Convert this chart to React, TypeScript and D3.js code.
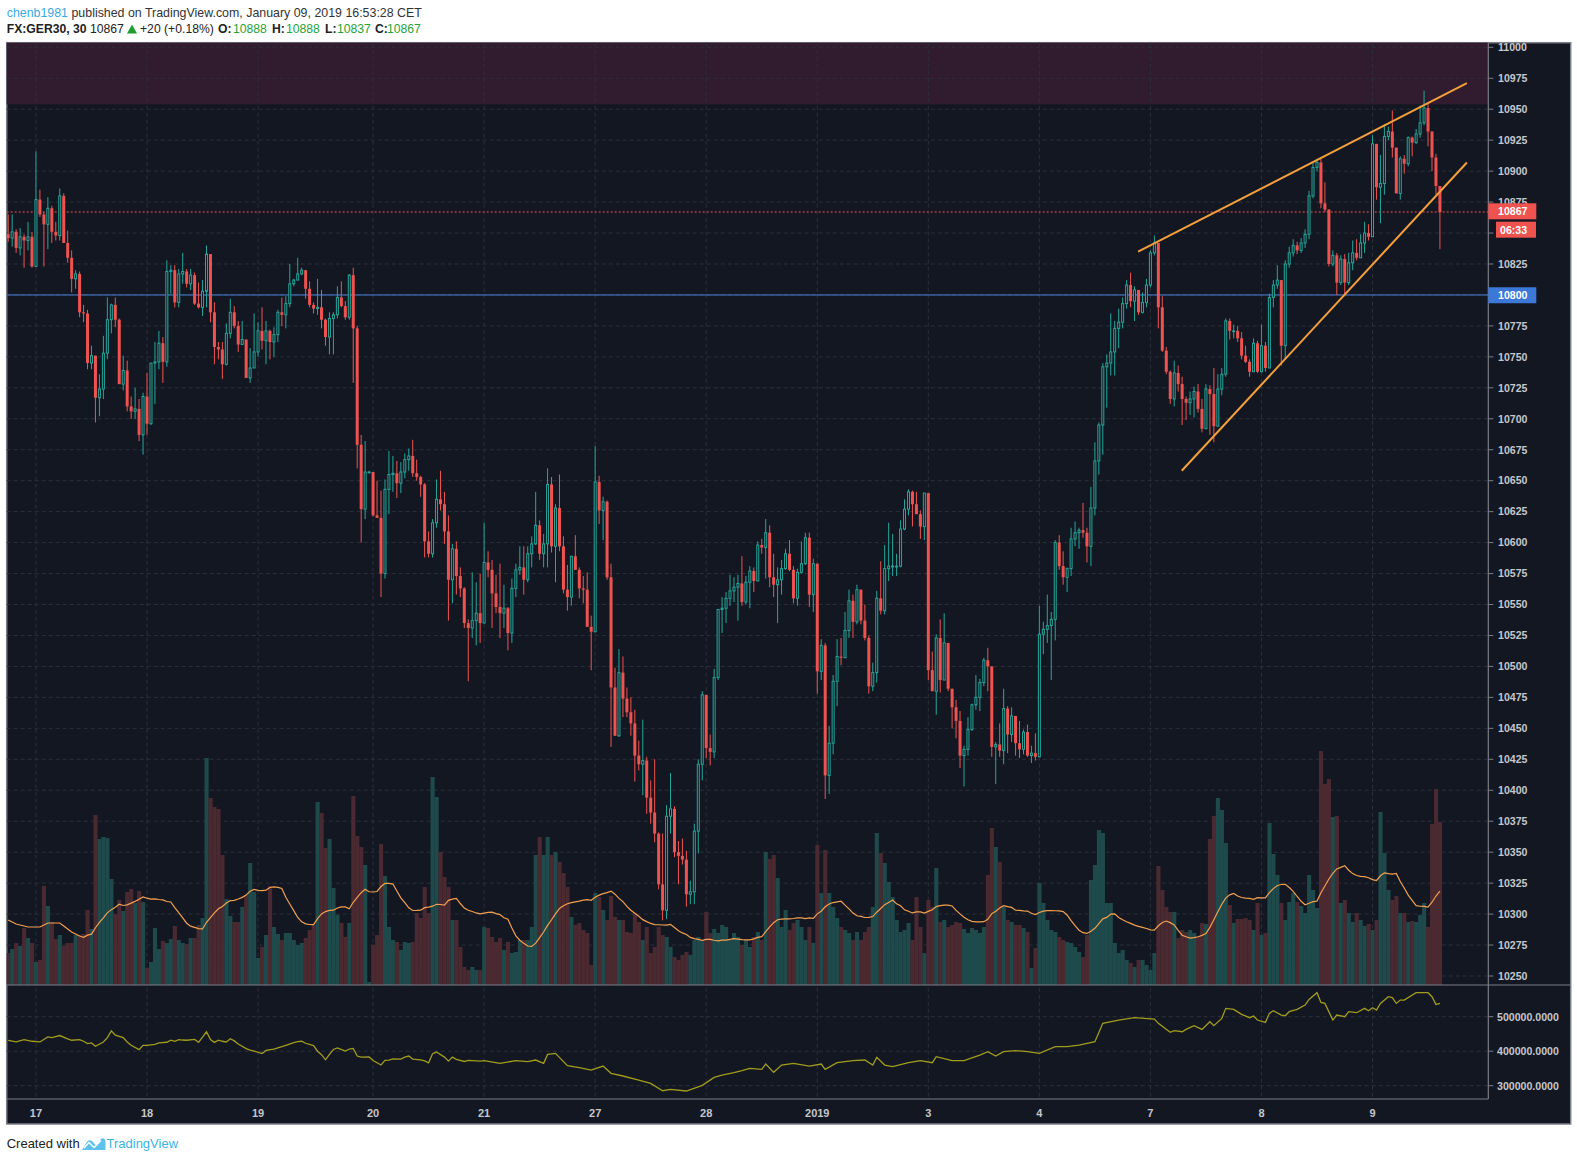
import React from 'react';
import * as d3 from 'd3';

// FX:GER30, 30 minute bars. Each session: [close, high, low]; open = previous close.
const firstOpen = 10849;

const dec14 = [[10846,10865,10843],[10851,10865,10839],[10838,10853,10834],[10847,10854,10832],[10844,10849,10822],[10847,10859,10836],[10823,10851,10822]];
const dec17 = [
  [10877,10916,10823],[10865,10885,10863],[10857,10867,10823],[10870,10879,10837],[10851,10872,10842],
  [10848,10859,10844],[10880,10886,10844],[10842,10882,10842],[10830,10852,10826],[10813,10836,10802],
  [10817,10820,10805],[10786,10819,10782],[10785,10792,10778],[10745,10788,10740],[10751,10759,10740],
  [10717,10751,10697],[10724,10736,10702],[10753,10767,10716],[10780,10798,10748],[10792,10793,10769],
  [10780,10798,10774],[10728,10781,10728],[10739,10751,10723],[10710,10747,10706],[10706,10718,10700],
  [10708,10725,10700],[10687,10716,10682],[10718,10721,10671]];
const dec18 = [
  [10696,10737,10687],[10745,10745,10695],[10746,10762,10712],[10761,10771,10740],[10746,10766,10729],
  [10819,10828,10742],[10820,10824,10801],[10794,10824,10790],[10817,10821,10790],[10819,10834,10809],
  [10809,10821,10806],[10816,10821,10804],[10793,10818,10792],[10790,10810,10789],[10803,10812,10783],
  [10833,10840,10790],[10786,10833,10778],[10758,10794,10744],[10756,10762,10748],[10744,10762,10732],
  [10769,10777,10743],[10786,10797,10765],[10775,10791,10773],[10760,10779,10754],[10764,10779,10760],
  [10733,10764,10733],[10741,10757,10729],[10754,10785,10741]];
const dec19 = [
  [10771,10778,10750],[10763,10790,10756],[10771,10779,10744],[10762,10772,10748],[10768,10774,10750],
  [10786,10788,10762],[10784,10798,10775],[10793,10799,10773],[10809,10825,10790],[10812,10813,10807],
  [10817,10830,10812],[10820,10822,10816],[10805,10820,10797],[10792,10811,10790],[10789,10794,10785],
  [10790,10813,10784],[10780,10804,10773],[10766,10781,10759],[10781,10786,10752],[10784,10786,10752],
  [10798,10807,10781],[10791,10811,10790],[10782,10795,10780],[10816,10817,10780],[10773,10822,10729],
  [10679,10775,10660],[10627,10687,10600],[10657,10682,10619],[10657,10658,10656]];
const dec20 = [
  [10622,10657,10621],[10620,10650,10620],[10575,10642,10556],[10643,10651,10571],[10655,10674,10623],
  [10656,10670,10641],[10648,10666,10636],[10657,10665,10640],[10667,10672,10652],[10670,10676,10658],
  [10656,10683,10653],[10653,10667,10650],[10647,10654,10637],[10601,10648,10588],[10591,10609,10588],
  [10616,10619,10588],[10635,10651,10612],[10631,10658,10626],[10609,10641,10599],[10570,10622,10537],
  [10595,10599,10551],[10573,10601,10558],[10563,10580,10556],[10535,10564,10531],[10531,10538,10488],
  [10537,10576,10523],[10543,10568,10517],[10535,10575,10519]];
const dec21 = [
  [10584,10616,10535],[10578,10593,10572],[10559,10586,10531],[10548,10574,10543],[10543,10583,10523],
  [10547,10566,10531],[10527,10548,10513],[10563,10571,10519],[10578,10583,10556],[10580,10597,10574],
  [10570,10597,10558],[10591,10597,10568],[10599,10605,10580],[10614,10641,10598],[10591,10618,10586],
  [10599,10607,10580],[10647,10660,10580],[10597,10653,10592],[10628,10631,10568],[10597,10655,10593],
  [10562,10605,10559],[10556,10582,10545],[10589,10589,10549],[10578,10606,10578],[10563,10580,10555],
  [10562,10573,10551],[10532,10576,10532],[10528,10541,10497]];
const dec27 = [
  [10649,10678,10528],[10626,10654,10615],[10633,10637,10602],[10572,10634,10570],[10483,10583,10435],
  [10444,10499,10444],[10495,10514,10443],[10474,10508,10459],[10463,10483,10459],[10454,10475,10444],
  [10428,10465,10407],[10421,10440,10416],[10424,10457,10396],[10394,10427,10381],[10382,10408,10373],
  [10365,10425,10358],[10324,10366,10320],[10303,10365,10295],[10379,10388,10296],[10385,10414,10365],
  [10350,10387,10346],[10347,10359,10324],[10344,10361,10340],[10316,10351,10306],[10318,10327,10308],
  [10367,10373,10308],[10421,10425,10349],[10477,10480,10408]];
const dec28 = [
  [10434,10477,10426],[10431,10445,10420],[10491,10498,10426],[10546,10546,10489],[10547,10556,10527],
  [10555,10560,10535],[10561,10574,10549],[10564,10572,10552],[10567,10574,10537],[10552,10589,10549],
  [10568,10573,10550],[10577,10581,10547],[10569,10580,10560],[10598,10601,10569],[10596,10603,10591],
  [10608,10619,10571],[10572,10614,10564],[10566,10591,10556],[10570,10580,10535],[10579,10586,10558],
  [10591,10595,10578],[10578,10602,10577],[10555,10581,10551],[10576,10579,10549],[10583,10601,10575],
  [10604,10608,10582],[10558,10608,10548],[10583,10587,10544]];
const jan2 = [
  [10496,10583,10478],[10517,10522,10489],[10412,10519,10393],[10438,10452,10397],[10488,10493,10429],
  [10508,10522,10468],[10507,10523,10501],[10529,10544,10507],[10553,10562,10523],[10536,10558,10523],
  [10562,10566,10534],[10537,10562,10534],[10523,10550,10521],[10484,10525,10478],[10495,10503,10480],
  [10555,10561,10487],[10545,10585,10542],[10579,10598,10542],[10581,10616,10569],[10581,10607,10573],
  [10581,10591,10573],[10611,10618,10580],[10627,10635,10610],[10641,10643,10622],[10631,10642,10613],
  [10623,10641,10623],[10613,10626,10603],[10640,10640,10602]];
const jan3 = [
  [10497,10640,10489],[10480,10512,10480],[10523,10526,10461],[10489,10538,10479],[10519,10543,10489],
  [10482,10519,10480],[10467,10482,10450],[10456,10473,10442],[10428,10464,10418],[10433,10436,10403],
  [10449,10459,10428],[10469,10470,10448],[10475,10493,10465],[10487,10490,10464],[10505,10507,10484],
  [10500,10515,10480],[10435,10500,10427],[10437,10439,10405],[10432,10454,10427],[10466,10482,10421],
  [10445,10468,10430],[10460,10467,10439],[10438,10460,10428],[10433,10456,10426],[10447,10449,10429],
  [10428,10453,10427],[10430,10436,10422],[10427,10446,10424]];
const jan4 = [
  [10526,10549,10427],[10530,10536,10510],[10533,10558,10519],[10538,10544,10489],[10600,10602,10521],
  [10581,10606,10578],[10572,10593,10566],[10579,10580,10560],[10603,10612,10573],[10608,10617,10597],
  [10610,10612,10595],[10608,10632,10604],[10597,10612,10584],[10628,10645,10581],[10666,10681,10622],
  [10695,10697,10655],[10742,10745,10671],[10745,10752,10709],[10754,10785,10735],[10773,10779,10735],
  [10778,10789,10757],[10793,10798,10773],[10808,10812,10789],[10795,10818,10790],[10804,10807,10779],
  [10786,10804,10784],[10794,10802,10785],[10808,10813,10790]];
const jan7 = [
  [10834,10836,10806],[10842,10848,10832],[10790,10842,10773],[10755,10799,10754],[10738,10758,10736],
  [10716,10739,10712],[10737,10747,10710],[10728,10743,10722],[10716,10734,10695],[10713,10718,10699],
  [10716,10722,10703],[10722,10726,10701],[10708,10728,10705],[10692,10716,10689],[10724,10728,10692],
  [10720,10727,10687],[10694,10741,10681],[10724,10736,10694],[10736,10741,10719],[10779,10781,10734],
  [10771,10781,10764],[10771,10776,10765],[10765,10775,10762],[10751,10770,10748],[10746,10759,10745],
  [10738,10748,10734],[10761,10765,10738],[10738,10763,10737]];
const jan8 = [
  [10759,10776,10739],[10741,10762,10738],[10798,10801,10741],[10808,10812,10790],[10812,10824,10805],
  [10759,10812,10743],[10825,10828,10748],[10834,10839,10822],[10840,10845,10831],[10836,10843,10833],
  [10842,10846,10834],[10849,10853,10838],[10880,10884,10845],[10903,10907,10878],[10907,10910,10900],
  [10874,10910,10870],[10869,10891,10867],[10825,10869,10823],[10832,10836,10823],[10810,10834,10800],
  [10829,10832,10808],[10810,10833,10799],[10826,10834,10808],[10834,10844,10820],[10830,10845,10828],
  [10842,10849,10830],[10850,10859,10834],[10847,10857,10844]];
const jan9 = [
  [10922,10929,10847],[10887,10922,10877],[10890,10913,10858],[10928,10938,10881],[10932,10936,10925],
  [10919,10949,10911],[10882,10919,10882],[10910,10912,10877],[10906,10913,10898],[10927,10928,10904],
  [10923,10928,10912],[10930,10934,10922],[10939,10953,10927],[10951,10965,10937],[10932,10955,10920],
  [10911,10932,10900],[10888,10914,10881],[10867,10888,10837]];

const sessions = [dec14, dec17, dec18, dec19, dec20, dec21, dec27, dec28, jan2, jan3, jan4, jan7, jan8, jan9];
const sessionLabels = ['', '17', '18', '19', '20', '21', '27', '28', '2019', '3', '4', '7', '8', '9'];

// volume per bar (relative units), same sessions
const volDec14 = [32,36,42,39,57,47,42];
const volDec17 = [23,25,99,79,63,46,50,39,42,42,50,50,51,75,56,170,146,148,147,106,71,85,74,93,96,82,94,83];
const volDec18 = [17,23,57,36,44,42,46,59,45,42,41,47,47,60,67,227,187,178,176,130,86,69,63,63,78,90,122,93];
const volDec19 = [27,38,50,99,58,51,45,52,52,45,40,42,47,55,60,183,172,137,146,97,70,62,48,62,189,149,138,120,3];
const volDec20 = [40,50,141,109,58,45,43,35,43,42,43,72,67,98,72,208,188,133,108,98,65,65,38,18,15,18,15,15];
const volDec21 = [58,57,48,43,47,35,43,32,33,45,45,45,58,130,148,130,148,130,133,123,112,98,68,60,62,55,52,20];
const volDec27 = [92,88,75,65,89,68,65,65,53,52,72,63,45,58,32,38,58,50,48,38,28,25,30,33,30,45,48,45];
const volDec28 = [73,52,56,52,60,58,45,52,48,40,45,38,48,53,45,133,126,130,107,58,75,55,62,65,58,45,58,42];
const volJan2 = [140,92,135,92,78,67,58,55,52,45,53,45,53,58,78,152,132,122,103,88,65,53,55,62,45,88,58,32];
const volJan3 = [85,78,117,63,65,58,60,63,62,56,52,57,55,52,58,110,157,138,123,78,65,63,60,60,57,53,17,37];
const volJan4 = [102,82,65,55,53,48,45,43,42,38,33,28,50,105,120,155,152,82,82,42,32,35,25,22,18,25,25,20];
const volJan7 = [15,32,119,95,78,73,73,47,55,53,55,52,48,62,61,146,169,187,175,142,80,62,66,66,67,65,55,82];
const volJan8 = [50,52,162,131,110,82,65,83,92,83,79,72,110,95,77,234,201,206,168,169,82,85,72,63,72,65,59,61];
const volJan9 = [55,65,173,132,95,85,89,72,72,63,64,63,70,82,58,161,196,163];
const volumeSessions = [volDec14, volDec17, volDec18, volDec19, volDec20, volDec21, volDec27, volDec28, volJan2, volJan3, volJan4, volJan7, volJan8, volJan9];

// MA(20) of volume for the first bars (needs earlier history)
const volumeMaHead = [65,63,61,60,59,58,58,58,58,60,62,62,62,62,59,56,53,51,49];

// lower pane indicator: [bar index, value]
const obvPoints = [
  [0,431700],[2,426800],[4,433700],[6,428800],[8,426800],[10,441500],[11,439500],[13,445400],[15,435600],[16,431700],
  [18,433700],[19,428800],[20,422000],[21,423900],[22,414100],[24,426800],[25,439500],[26,459000],[27,446300],[29,439500],
  [30,426800],[31,417100],[33,404400],[34,417100],[35,417100],[37,420000],[38,423900],[40,425900],[41,432000],[42,428800],
  [43,433700],[44,432400],[45,431700],[47,434300],[48,425600],[50,456300],[51,433700],[52,425600],[53,432000],[54,428800],
  [55,426800],[56,436000],[57,429800],[58,421000],[60,407300],[61,403400],[62,400500],[64,393000],[65,402400],[67,406000],
  [69,413100],[70,417100],[72,424900],[73,427600],[74,428800],[75,423000],[77,416100],[78,400000],[79,390000],[80,375100],
  [81,390700],[82,405000],[83,409300],[85,400500],[86,406300],[87,408000],[88,386000],[89,382900],[91,383500],[92,373200],
  [94,360000],[95,373200],[96,374400],[97,378000],[99,377100],[100,382900],[101,386000],[102,377100],[104,375100],[105,372000],
  [106,366300],[107,392700],[108,397600],[110,382900],[111,371200],[112,382900],[113,376400],[115,370200],[116,373200],[119,371200],
  [120,372500],[124,364800],[128,372500],[131,369600],[133,374400],[135,364800],[136,390800],[138,393700],[141,358000],[144,352200],
  [147,345400],[150,357000],[152,335800],[155,328100],[159,316500],[162,306800],[165,285500],[167,289400],[171,284600],[175,301000],
  [178,324200],[180,330900],[183,337700],[185,343500],[187,350300],[190,347400],[191,362800],[193,338700],[195,359900],[198,364800],
  [202,357000],[205,362800],[206,347400],[209,366700],[213,372500],[216,374400],[218,359900],[219,382100],[221,359900],[223,355100],
  [227,366700],[230,372500],[233,366700],[234,384100],[238,372500],[241,372500],[245,388900],[247,398600],[249,386000],[251,398600],
  [254,401500],[257,398600],[260,393700],[264,413100],[267,413100],[270,417900],[274,427600],[276,480700],[280,490300],[284,497100],
  [289,493000],[290,480700],[293,454600],[294,459400],[296,456500],[297,463300],[299,473900],[301,463300],[303,485500],[304,473900],
  [306,495200],[307,524200],[309,521300],[311,506800],[313,497100],[314,501900],[315,490300],[317,483600],[318,509700],[319,517400],
  [321,504800],[322,502900],[323,514500],[325,521300],[327,533800],[328,550200],[330,569600],[331,541500],[332,538600],[334,490300],
  [335,504800],[337,500000],[338,514500],[340,511600],[342,524200],[343,517400],[344,526100],[345,519300],[346,538600],[348,558000],
  [349,555100],[350,538600],[351,548300],[352,548300],[355,569600],[358,569600],[359,558000],[360,535700],[361,538600]];

// drawings: [bar index, price]
const upperTrend = [[284.9, 10835], [367.8, 10971]];
const lowerTrend = [[295.9, 10658], [367.8, 10907]];
const resistanceZone = [10954, 11010];
const lastPrice = 10867;
const markedLevel = 10800;
const priceTicks = d3.range(10250, 11001, 25);
const obvTicks = [300000, 400000, 500000];

const BG = '#131722';
const UP = '#26a69a';
const DOWN = '#ef5350';
const GRID = '#2c303b';
const AXIS_TXT = '#c5c7cc';
const FONT = '"Liberation Sans", Arial, sans-serif';

const L = 6.7, R = 1488.3, T = 42.7, MAIN_B = 985, LOW_B = 1099, AX_B = 1124, FRAME_R = 1570.7;

const bars = (() => {
  const ohlc = sessions.flat();
  const vols = volumeSessions.flat();
  let prev = firstOpen;
  return ohlc.map(([c, h, l], i) => {
    const o = prev;
    prev = c;
    return { i, o, c, h: Math.max(h, o, c), l: Math.min(l, o, c), v: vols[i] };
  });
})();

const dayStarts = (() => {
  const out = [];
  let idx = 0;
  sessions.forEach((s, k) => {
    if (sessionLabels[k]) out.push({ i: idx, label: sessionLabels[k] });
    idx += s.length;
  });
  return out;
})();

const volMa = bars.map((b, i) =>
  i < volumeMaHead.length ? volumeMaHead[i] : d3.mean(bars.slice(i - 19, i + 1), d => d.v));

export default function App() {
  const n = bars.length;
  const step = 3.966;
  const x = d3.scaleLinear().domain([0, n - 1]).range([8.2, 8.2 + (n - 1) * step]);
  const y = d3.scaleLinear().domain([10250, 11000]).range([976, 47.3]);
  const yVol = d3.scaleLinear().domain([0, 240]).range([MAIN_B, MAIN_B - 240]);
  const yObv = d3.scaleLinear().domain([300000, 500000]).range([1085.7, 1016.7]);

  const maLine = d3.line<number>().x((_, i) => x(i)).y(d => yVol(d))(volMa);
  const obvLine = d3.line<number[]>().x(d => x(d[0])).y(d => yObv(d[1]))(obvPoints);
  const trend = (pts) => d3.line<number[]>().x(d => x(d[0])).y(d => y(d[1]))(pts);

  const boxH = 16;

  return (
    <div style={{ position: 'absolute', left: 0, top: 0, width: 1577, height: 1161, background: '#fff' }}>
      <svg width={1577} height={1161} style={{ display: 'block', fontFamily: FONT }}>
        <defs>
          <clipPath id="mainClip"><rect x={L} y={T} width={R - L} height={MAIN_B - T} /></clipPath>
          <clipPath id="lowClip"><rect x={L} y={MAIN_B} width={R - L} height={LOW_B - MAIN_B} /></clipPath>
        </defs>

        {/* header */}
        <text x={6.7} y={16.5} fontSize={12.4} fill="#333">
          <tspan fill="#3ba9e0">chenb1981</tspan>
          <tspan> published on TradingView.com, January 09, 2019 16:53:28 CET</tspan>
        </text>
        <text y={33} fontSize={12.2} fill="#222">
          <tspan x={6.7} fontWeight="bold">FX:GER30, 30</tspan>
          <tspan x={90}>10867</tspan>
          <tspan x={140}>+20 (+0.18%)</tspan>
          <tspan x={218} fontWeight="bold">O:</tspan>
          <tspan x={233} fill="#27a33b">10888</tspan>
          <tspan x={272} fontWeight="bold">H:</tspan>
          <tspan x={286} fill="#27a33b">10888</tspan>
          <tspan x={325} fontWeight="bold">L:</tspan>
          <tspan x={337} fill="#27a33b">10837</tspan>
          <tspan x={375} fontWeight="bold">C:</tspan>
          <tspan x={387} fill="#27a33b">10867</tspan>
        </text>
        <path d="M127,33.5 L132,24.5 L137,33.5 Z" fill="#1e9e2e" />

        {/* chart frame */}
        <rect x={L} y={T} width={FRAME_R - L} height={AX_B - T} fill={BG} stroke="#7c7f88" strokeWidth={1.5} />

        {/* resistance zone */}
        <rect x={L} y={Math.max(T, y(resistanceZone[1]))} width={R - L}
          height={y(resistanceZone[0]) - Math.max(T, y(resistanceZone[1]))} fill="#311b2f" />

        {/* grid */}
        <g stroke={GRID} strokeWidth={1} strokeDasharray="4 3">
          {priceTicks.map(p => (
            <line key={'g' + p} x1={L} x2={R} y1={y(p)} y2={y(p)} />
          ))}
          {obvTicks.map(v => (
            <line key={'o' + v} x1={L} x2={R} y1={yObv(v)} y2={yObv(v)} />
          ))}
          {dayStarts.map(d => (
            <line key={'d' + d.i} x1={x(d.i)} x2={x(d.i)} y1={T} y2={LOW_B} />
          ))}
        </g>

        <g clipPath="url(#mainClip)">
          {/* volume */}
          {bars.map(b => (
            <rect key={'v' + b.i} x={x(b.i) - step / 2} y={yVol(b.v)} width={step + 0.15}
              height={MAIN_B - yVol(b.v)} fill={b.c >= b.o ? '#1f4a4c' : '#4b2930'} />
          ))}
          <path d={maLine} fill="none" stroke="#f3a04e" strokeWidth={1.2} />

          {/* level lines */}
          <line x1={L} x2={R} y1={y(markedLevel)} y2={y(markedLevel)} stroke="#4a84e0" strokeWidth={1} />
          <line x1={L} x2={R} y1={y(lastPrice)} y2={y(lastPrice)} stroke={DOWN} strokeWidth={1} strokeDasharray="2 2" />

          {/* candles */}
          {bars.map(b => {
            const up = b.c >= b.o;
            const col = up ? UP : DOWN;
            const cx = x(b.i);
            const top = y(Math.max(b.o, b.c));
            const bot = y(Math.min(b.o, b.c));
            return (
              <g key={'c' + b.i}>
                <line x1={cx} x2={cx} y1={y(b.h)} y2={y(b.l)} stroke={col} strokeWidth={1} />
                {up ? (
                  <rect x={cx - 1} y={top} width={2} height={Math.max(0.8, bot - top)} fill={BG} stroke={col} strokeWidth={1} />
                ) : (
                  <rect x={cx - 1.5} y={top} width={3} height={Math.max(1, bot - top)} fill={col} />
                )}
              </g>
            );
          })}

          {/* trend lines */}
          <path d={trend(upperTrend)} stroke="#f5a03a" strokeWidth={2} fill="none" />
          <path d={trend(lowerTrend)} stroke="#f5a03a" strokeWidth={2} fill="none" />
        </g>

        {/* lower pane */}
        <g clipPath="url(#lowClip)">
          <path d={obvLine} fill="none" stroke="#a19c1c" strokeWidth={1.3} />
        </g>

        {/* pane separators and axis line */}
        <line x1={L} x2={FRAME_R} y1={MAIN_B} y2={MAIN_B} stroke="#7c7f88" strokeWidth={1.2} />
        <line x1={L} x2={R} y1={LOW_B} y2={LOW_B} stroke="#7c7f88" strokeWidth={1.2} />
        <line x1={R} x2={R} y1={T} y2={LOW_B} stroke="#7c7f88" strokeWidth={1.2} />

        {/* price axis */}
        {priceTicks.map(p => (
          <g key={'t' + p}>
            <line x1={R} x2={R + 5} y1={y(p)} y2={y(p)} stroke="#7c7f88" />
            <text x={1498} y={y(p) + 3.8} fontSize={10.6} fontWeight="bold" fill={AXIS_TXT}>{p}</text>
          </g>
        ))}
        {obvTicks.map(v => (
          <g key={'ot' + v}>
            <line x1={R} x2={R + 5} y1={yObv(v)} y2={yObv(v)} stroke="#7c7f88" />
            <text x={1497} y={yObv(v) + 3.8} fontSize={10.6} fontWeight="bold" fill={AXIS_TXT}>{v.toFixed(4)}</text>
          </g>
        ))}

        {/* price labels */}
        <rect x={R} y={y(lastPrice) - 8.7} width={48} height={boxH} fill={DOWN} />
        <text x={1498} y={y(lastPrice) + 3.3} fontSize={10.6} fontWeight="bold" fill="#fff">{lastPrice}</text>
        <rect x={1496} y={y(lastPrice) + 9.7} width={40} height={boxH} fill={DOWN} />
        <text x={1500} y={y(lastPrice) + 21.7} fontSize={10.6} fontWeight="bold" fill="#fff">06:33</text>
        <rect x={R} y={y(markedLevel) - 7.7} width={48} height={boxH} fill="#3c78d8" />
        <text x={1498} y={y(markedLevel) + 4.3} fontSize={10.6} fontWeight="bold" fill="#fff">{markedLevel}</text>

        {/* time axis */}
        {dayStarts.map(d => (
          <text key={'tl' + d.i} x={x(d.i)} y={1117} textAnchor="middle" fontSize={11} fontWeight="bold" fill={AXIS_TXT}>{d.label}</text>
        ))}

        {/* footer */}
        <text x={6.7} y={1147.5} fontSize={13} fill="#222">Created with</text>
        <path d="M82,1150 L86.5,1142.5 Q89,1138.5 92.5,1141.5 L96.5,1146 L100.5,1139.5 Q103,1136.5 105.5,1140.5 L105.5,1150 Z" fill="#5cc2ec" />
        <path d="M84,1148 L89,1142.5 L94,1147.5 L101,1140.5" fill="none" stroke="#fff" strokeWidth={1.4} />
        <text x={106.5} y={1147.5} fontSize={13} fill="#3bb3e4">TradingView</text>
      </svg>
    </div>
  );
}
